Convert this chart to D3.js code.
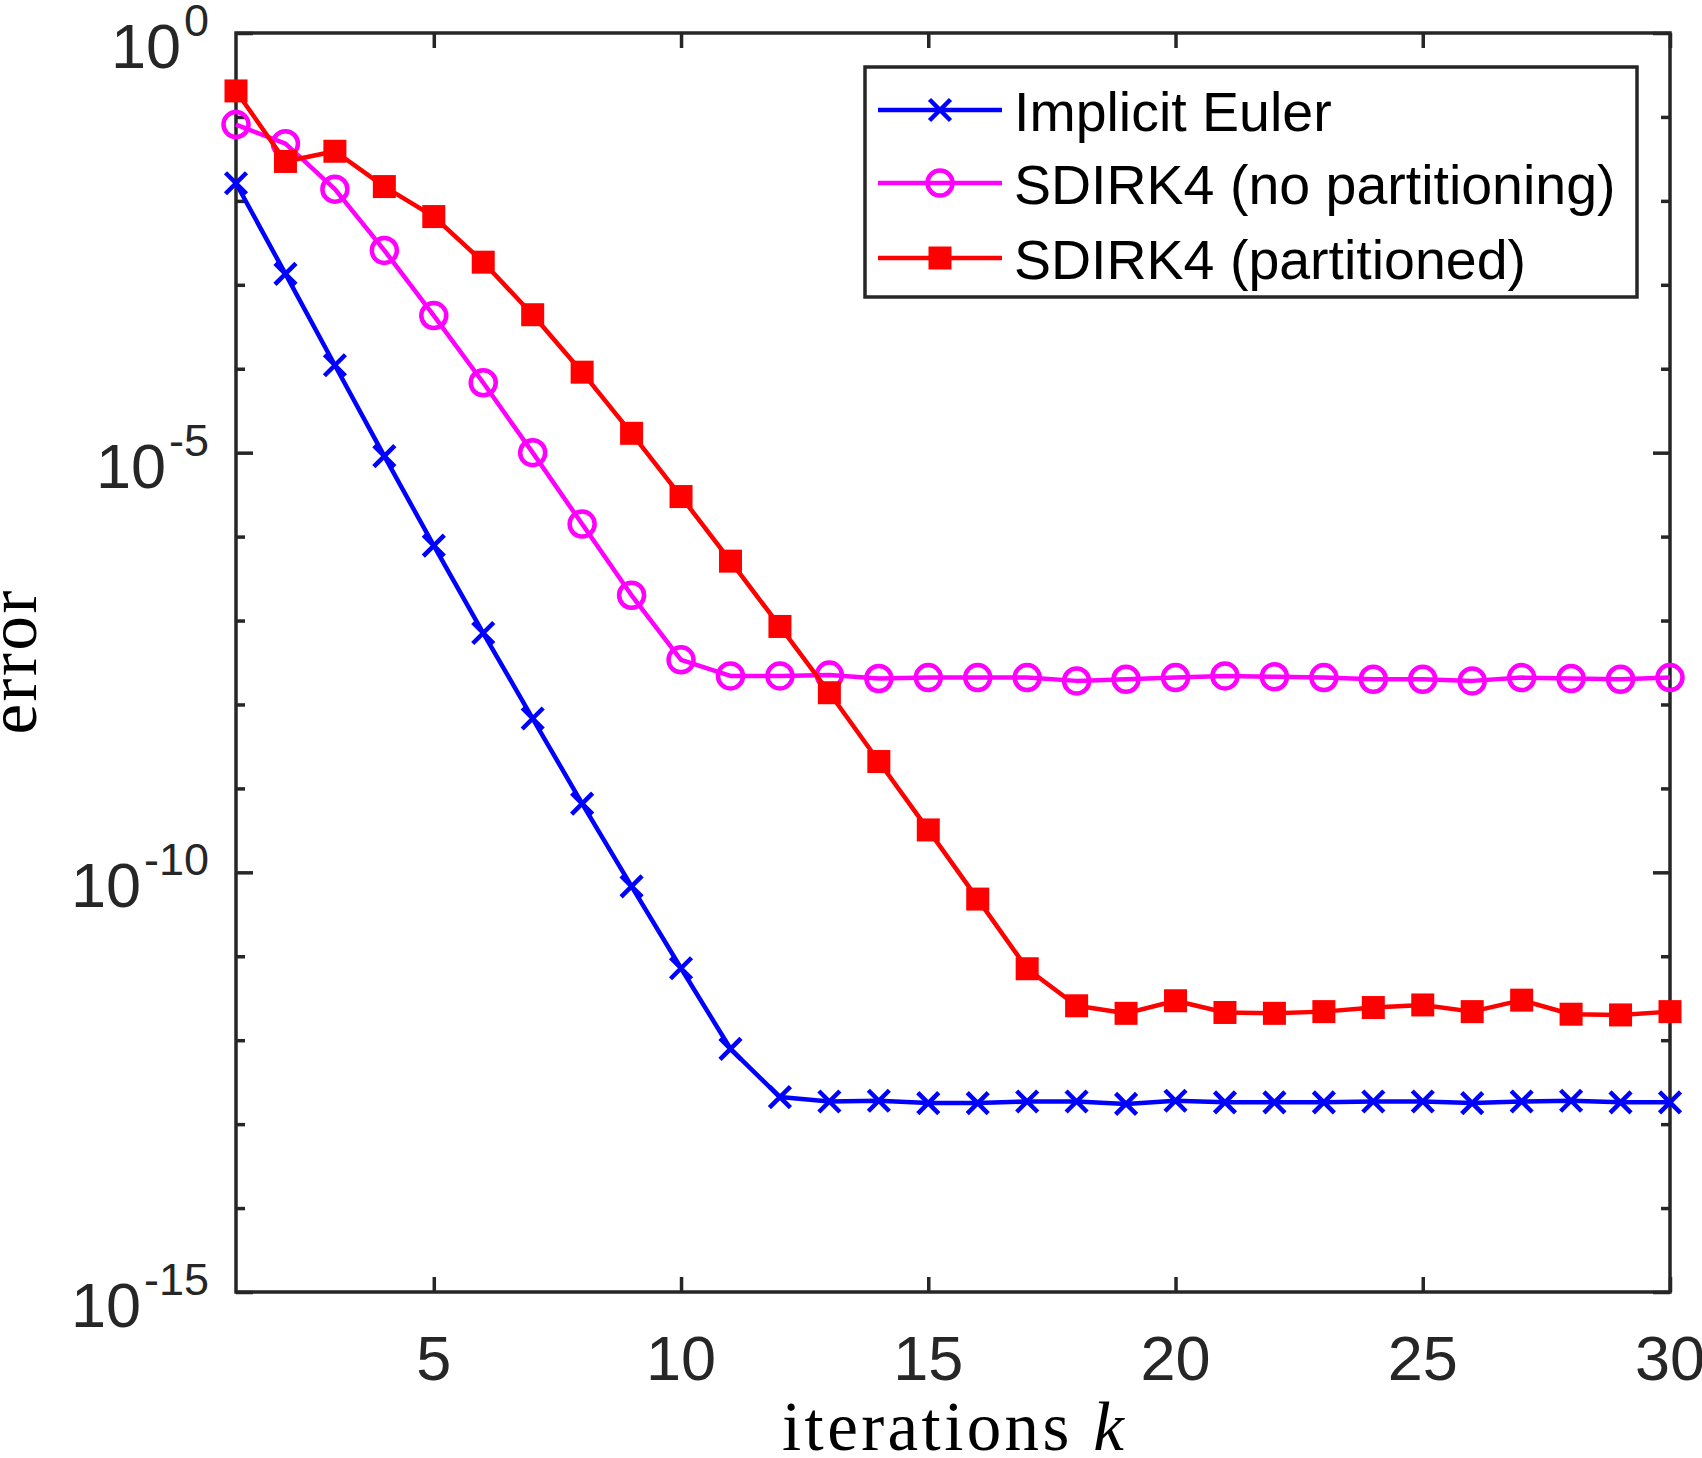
<!DOCTYPE html>
<html>
<head>
<meta charset="utf-8">
<script src="https://cdn.jsdelivr.net/npm/d3@7"></script>
<style>
  body { margin: 0; background: #fff; }
  svg { display: block; }
</style>
</head>
<body>
<svg id="chart"></svg>
<script>
// iteration counts k
var iterations = [1,2,3,4,5,6,7,8,9,10,11,12,13,14,15,16,17,18,19,20,21,22,23,24,25,26,27,28,29,30];

// error per iteration
var implicitEuler = [1.62e-2,1.35e-3,1.10e-4,9.1e-6,7.8e-7,7.1e-8,6.8e-9,6.6e-10,6.8e-11,7.2e-12,
                     7.9e-13,2.1e-13,1.86e-13,1.9e-13,1.78e-13,1.78e-13,1.86e-13,1.86e-13,1.74e-13,1.9e-13,
                     1.82e-13,1.82e-13,1.82e-13,1.86e-13,1.86e-13,1.78e-13,1.86e-13,1.9e-13,1.82e-13,1.82e-13];
var sdirkNoPart = [8.1e-2,4.8e-2,1.38e-2,2.57e-3,4.3e-4,6.8e-5,1.0e-5,1.41e-6,2.0e-7,3.4e-8,
                   2.19e-8,2.19e-8,2.24e-8,2.04e-8,2.09e-8,2.09e-8,2.09e-8,1.91e-8,2.0e-8,2.09e-8,
                   2.19e-8,2.14e-8,2.09e-8,2.0e-8,2.0e-8,1.91e-8,2.09e-8,2.04e-8,2.0e-8,2.09e-8];
var sdirkPart = [2.04e-1,2.95e-2,3.9e-2,1.48e-2,6.5e-3,1.86e-3,4.4e-4,9.1e-5,1.70e-5,3.0e-6,
                 5.1e-7,8.5e-8,1.38e-8,2.09e-9,3.2e-10,4.8e-11,7.1e-12,2.57e-12,2.09e-12,2.95e-12,
                 2.14e-12,2.09e-12,2.19e-12,2.45e-12,2.63e-12,2.19e-12,3.0e-12,2.04e-12,2.0e-12,2.19e-12];

var seriesNames = ["Implicit Euler","SDIRK4 (no partitioning)","SDIRK4 (partitioned)"];
var seriesColors = ["#0000ff","#ff00ff","#ff0000"];
var seriesMarkers = ["cross","circle","square"];

var xTicks = [5,10,15,20,25,30];
var yMajorExp = [0,-5,-10,-15];
var yMinorExp = [-1,-2,-3,-4,-6,-7,-8,-9,-11,-12,-13,-14];

var W = 1702, H = 1458;
// plot box (window.top is reserved, so prefix the names)
var pLeft = 236, pRight = 1670, pTop = 33, pBottom = 1292;
var axisColor = "#262626";

var svg = d3.select("#chart").attr("width",W).attr("height",H);

var x = d3.scaleLinear().domain([1,30]).range([pLeft,pRight]);
var y = d3.scaleLog().domain([1e-15,1]).range([pBottom,pTop]);

//Axes with inward ticks, all four sides
var axG = svg.append("g").attr("id","axes");

function styleAxis(g) {
    g.select(".domain").remove();
    g.selectAll(".tick line").attr("stroke",axisColor).attr("stroke-width",3.5);
    g.selectAll(".tick text").remove();
}

axG.append("g")
    .attr("transform","translate(0,"+pBottom+")")
    .call(d3.axisBottom(x).tickValues(xTicks).tickSizeInner(-15).tickSizeOuter(0))
    .call(styleAxis);
axG.append("g")
    .attr("transform","translate(0,"+pTop+")")
    .call(d3.axisTop(x).tickValues(xTicks).tickSizeInner(-15).tickSizeOuter(0))
    .call(styleAxis);

var majorVals = yMajorExp.map(function(e){ return Math.pow(10,e); });
var minorVals = yMinorExp.map(function(e){ return Math.pow(10,e); });

axG.append("g").attr("transform","translate("+pLeft+",0)")
    .call(d3.axisLeft(y).tickValues(majorVals).tickSizeInner(-17).tickSizeOuter(0)).call(styleAxis);
axG.append("g").attr("transform","translate("+pLeft+",0)")
    .call(d3.axisLeft(y).tickValues(minorVals).tickSizeInner(-9).tickSizeOuter(0)).call(styleAxis);
axG.append("g").attr("transform","translate("+pRight+",0)")
    .call(d3.axisRight(y).tickValues(majorVals).tickSizeInner(-17).tickSizeOuter(0)).call(styleAxis);
axG.append("g").attr("transform","translate("+pRight+",0)")
    .call(d3.axisRight(y).tickValues(minorVals).tickSizeInner(-9).tickSizeOuter(0)).call(styleAxis);

//Box
axG.append("rect")
    .attr("x",pLeft).attr("y",pTop)
    .attr("width",pRight-pLeft).attr("height",pBottom-pTop)
    .attr("fill","none")
    .attr("stroke",axisColor)
    .attr("stroke-width",3.5);

//x tick labels
svg.append("g").selectAll("text")
    .data(xTicks)
    .join("text")
    .attr("x",function(d){ return x(d); })
    .attr("y",1380)
    .attr("text-anchor","middle")
    .attr("font-family","Liberation Sans, Arial, sans-serif")
    .attr("font-size",63)
    .attr("fill",axisColor)
    .text(function(d){ return d; });

//y tick labels 10^e
var yl = svg.append("g").selectAll("text")
    .data(yMajorExp)
    .join("text")
    .attr("x",209)
    .attr("y",function(d){ return y(Math.pow(10,d)) + 35; })
    .attr("text-anchor","end")
    .attr("font-family","Liberation Sans, Arial, sans-serif")
    .attr("fill",axisColor);
yl.append("tspan").attr("font-size",63).text("10");
yl.append("tspan").attr("font-size",45).attr("dy",-32).attr("dx",3)
    .text(function(d){ return d; });

//axis titles (serif, like LaTeX)
var xt = svg.append("text")
    .attr("x",(pLeft+pRight)/2)
    .attr("y",1450)
    .attr("text-anchor","middle")
    .attr("font-family","Liberation Serif, Times New Roman, serif")
    .attr("font-size",69)
    .attr("fill","#000")
    .attr("textLength",342)
    .attr("lengthAdjust","spacing");
xt.append("tspan").text("iterations ");
xt.append("tspan").attr("font-style","italic").text("k");

svg.append("text")
    .attr("transform","translate(36,"+((pTop+pBottom)/2)+") rotate(-90)")
    .attr("text-anchor","middle")
    .attr("font-family","Liberation Serif, Times New Roman, serif")
    .attr("font-size",69)
    .attr("fill","#000")
    .attr("textLength",144)
    .attr("lengthAdjust","spacing")
    .text("error");

//markers
function drawMarker(g,type,color) {
    if (type=="cross") {
        g.append("path")
            .attr("d","M-10.5,-10.5L10.5,10.5M-10.5,10.5L10.5,-10.5")
            .attr("stroke",color)
            .attr("stroke-width",4.5)
            .attr("fill","none");
    } else if (type=="circle") {
        g.append("circle")
            .attr("r",12.5)
            .attr("fill","none")
            .attr("stroke",color)
            .attr("stroke-width",4.5);
    } else {
        g.append("rect")
            .attr("x",-11.5).attr("y",-11.5)
            .attr("width",23).attr("height",23)
            .attr("fill",color);
    }
}

var allSeries = [implicitEuler,sdirkNoPart,sdirkPart];
var line = d3.line()
    .x(function(d){ return x(d[0]); })
    .y(function(d){ return y(d[1]); });

allSeries.forEach(function(vals,i) {
    var pts = iterations.map(function(k,j){ return [k,vals[j]]; });
    var sg = svg.append("g").attr("class","series");
    sg.append("path")
        .attr("d",line(pts))
        .attr("fill","none")
        .attr("stroke",seriesColors[i])
        .attr("stroke-width",4.5)
        .attr("stroke-linejoin","round");
    sg.selectAll("g.mk")
        .data(pts)
        .join("g")
        .attr("class","mk")
        .attr("transform",function(d){ return "translate("+x(d[0])+","+y(d[1])+")"; })
        .each(function(){ drawMarker(d3.select(this),seriesMarkers[i],seriesColors[i]); });
});

//Legend
var lg = svg.append("g").attr("id","legend");
lg.append("rect")
    .attr("x",865).attr("y",67)
    .attr("width",772).attr("height",230)
    .attr("fill","#fff")
    .attr("stroke",axisColor)
    .attr("stroke-width",3.5);

var rowY = [110,183,258];
seriesNames.forEach(function(name,i) {
    var r = lg.append("g").attr("transform","translate(0,"+rowY[i]+")");
    r.append("line")
        .attr("x1",878).attr("x2",1002)
        .attr("y1",0).attr("y2",0)
        .attr("stroke",seriesColors[i])
        .attr("stroke-width",4.5);
    drawMarker(r.append("g").attr("transform","translate(940,0)"),seriesMarkers[i],seriesColors[i]);
    r.append("text")
        .attr("x",1014)
        .attr("y",21)
        .attr("font-family","Liberation Sans, Arial, sans-serif")
        .attr("font-size",55.5)
        .attr("fill","#000")
        .text(name);
});
</script>
</body>
</html>
